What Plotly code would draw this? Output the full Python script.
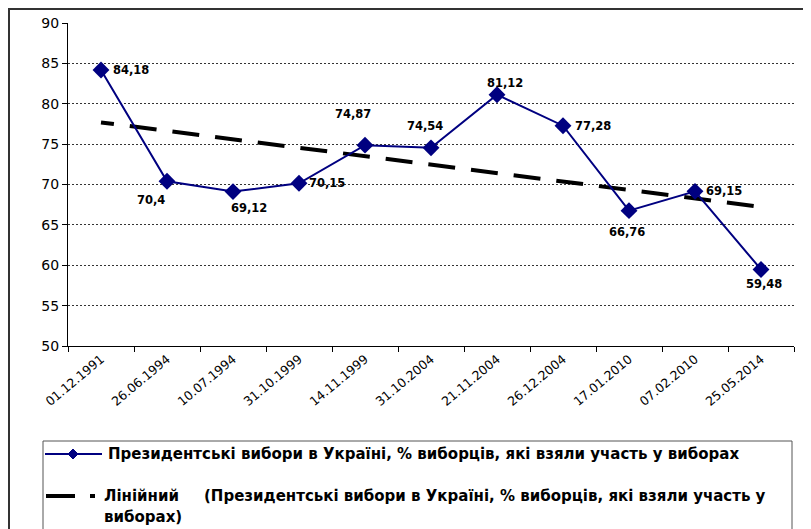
import numpy as np
import plotly.graph_objects as go

# дати виборів і явка, %
dates = ["01.12.1991", "26.06.1994", "10.07.1994", "31.10.1999", "14.11.1999",
         "31.10.2004", "21.11.2004", "26.12.2004", "17.01.2010", "07.02.2010",
         "25.05.2014"]
turnout = [84.18, 70.4, 69.12, 70.15, 74.87, 74.54, 81.12, 77.28, 66.76, 69.15, 59.48]
labels = ["84,18", "70,4", "69,12", "70,15", "74,87", "74,54", "81,12", "77,28",
          "66,76", "69,15", "59,48"]
# зсув підписів відносно маркерів (px)
label_dx = [30, -16, 16, 28, -12, -6, 8, 30, -2, 29, 3]
label_dy = [0, 19, 16, 0, -31, -22, -12, 0, 21, 0, 15]

series_name = "Президентські вибори в Україні, % виборців, які взяли участь у виборах"

NAVY = "#000080"
FONT = "DejaVu Sans, Arial, sans-serif"

# лінійний тренд (як в Excel)
idx = np.arange(1, len(turnout) + 1)
k, b = np.polyfit(idx, turnout, 1)
trend = k * idx + b

# розміри (body у браузері має відступ 8px)
W, H = 803, 521
L, R, T, B = 60, 17, 15, 183
pw, ph = W - L - R, H - T - B


def px_x(x):
    # x у пікселях сторінки -> paper
    return (x - 8 - L) / pw


def px_y(y):
    return (H - B - (y - 8)) / ph


fig = go.Figure()

dash = "13px,16px" + ",27px,16px" * 18
fig.add_trace(go.Scatter(
    x=dates, y=trend, mode="lines",
    line=dict(color="black", width=4, dash=dash),
    hoverinfo="skip", showlegend=False,
))

fig.add_trace(go.Scatter(
    x=dates, y=turnout, mode="lines+markers",
    line=dict(color=NAVY, width=2),
    marker=dict(symbol="diamond", size=13, color=NAVY),
    showlegend=False,
))

annotations = []
for d, v, t, dx, dy in zip(dates, turnout, labels, label_dx, label_dy):
    annotations.append(dict(
        x=d, y=v, text=t, showarrow=False, xshift=dx, yshift=-dy,
        xanchor="center", yanchor="middle",
        font=dict(family=FONT, size=11.5, color="black", weight="bold"),
    ))

shapes = []
# зовнішня рамка діаграми
shapes.append(dict(type="rect", xref="paper", yref="paper",
                   x0=px_x(9), x1=px_x(820), y0=px_y(9), y1=px_y(540),
                   line=dict(color="#333333", width=2), layer="below"))
# рамка легенди
shapes.append(dict(type="rect", xref="paper", yref="paper",
                   x0=px_x(43), x1=px_x(792), y0=px_y(441), y1=px_y(545),
                   line=dict(color="#555555", width=1)))
# зразок серії
shapes.append(dict(type="line", xref="paper", yref="paper",
                   x0=px_x(45), x1=px_x(102), y0=px_y(454), y1=px_y(454),
                   line=dict(color=NAVY, width=2)))
cx, cy, r = 73, 454, 5
shapes.append(dict(type="path", xref="paper", yref="paper",
                   path=f"M {px_x(cx - r)} {px_y(cy)} L {px_x(cx)} {px_y(cy - r)} "
                        f"L {px_x(cx + r)} {px_y(cy)} L {px_x(cx)} {px_y(cy + r)} Z",
                   fillcolor=NAVY, line=dict(color=NAVY, width=1)))
# зразок тренду
shapes.append(dict(type="line", xref="paper", yref="paper",
                   x0=px_x(46), x1=px_x(75), y0=px_y(496), y1=px_y(496),
                   line=dict(color="black", width=4)))
shapes.append(dict(type="line", xref="paper", yref="paper",
                   x0=px_x(90), x1=px_x(95), y0=px_y(496), y1=px_y(496),
                   line=dict(color="black", width=4)))

legend_font = dict(family=FONT, size=15, color="black", weight="bold")
legend_items = [
    (series_name, 106, 454),
    ("Лінійний", 102, 496),
    ("(Президентські вибори в Україні, % виборців, які взяли участь у", 202, 496),
    ("виборах)", 102, 517),
]
for text, x, y in legend_items:
    annotations.append(dict(
        text=text, x=px_x(x), y=px_y(y), xref="paper", yref="paper",
        xanchor="left", yanchor="middle", showarrow=False, font=legend_font,
    ))

fig.update_layout(
    width=W, height=H,
    margin=dict(l=L, r=R, t=T, b=B, autoexpand=False),
    paper_bgcolor="white", plot_bgcolor="white",
    font=dict(family=FONT, color="black"),
    shapes=shapes, annotations=annotations,
    showlegend=False,
)

fig.update_xaxes(
    type="category", range=[-0.5, len(dates) - 0.5],
    tickson="boundaries", ticks="outside", ticklen=5,
    tickcolor="black", showline=True, linecolor="black", linewidth=1,
    showgrid=False, tickangle=-40, tickfont=dict(family=FONT, size=12.5),
)
fig.update_yaxes(
    range=[50, 90], dtick=5, ticks="outside", ticklen=5, tickcolor="black",
    showline=True, linecolor="black", linewidth=1,
    showgrid=True, gridcolor="#333333", gridwidth=1, griddash="2px,2px",
    tickfont=dict(family=FONT, size=14), zeroline=False,
)

fig.write_html("out.html")
